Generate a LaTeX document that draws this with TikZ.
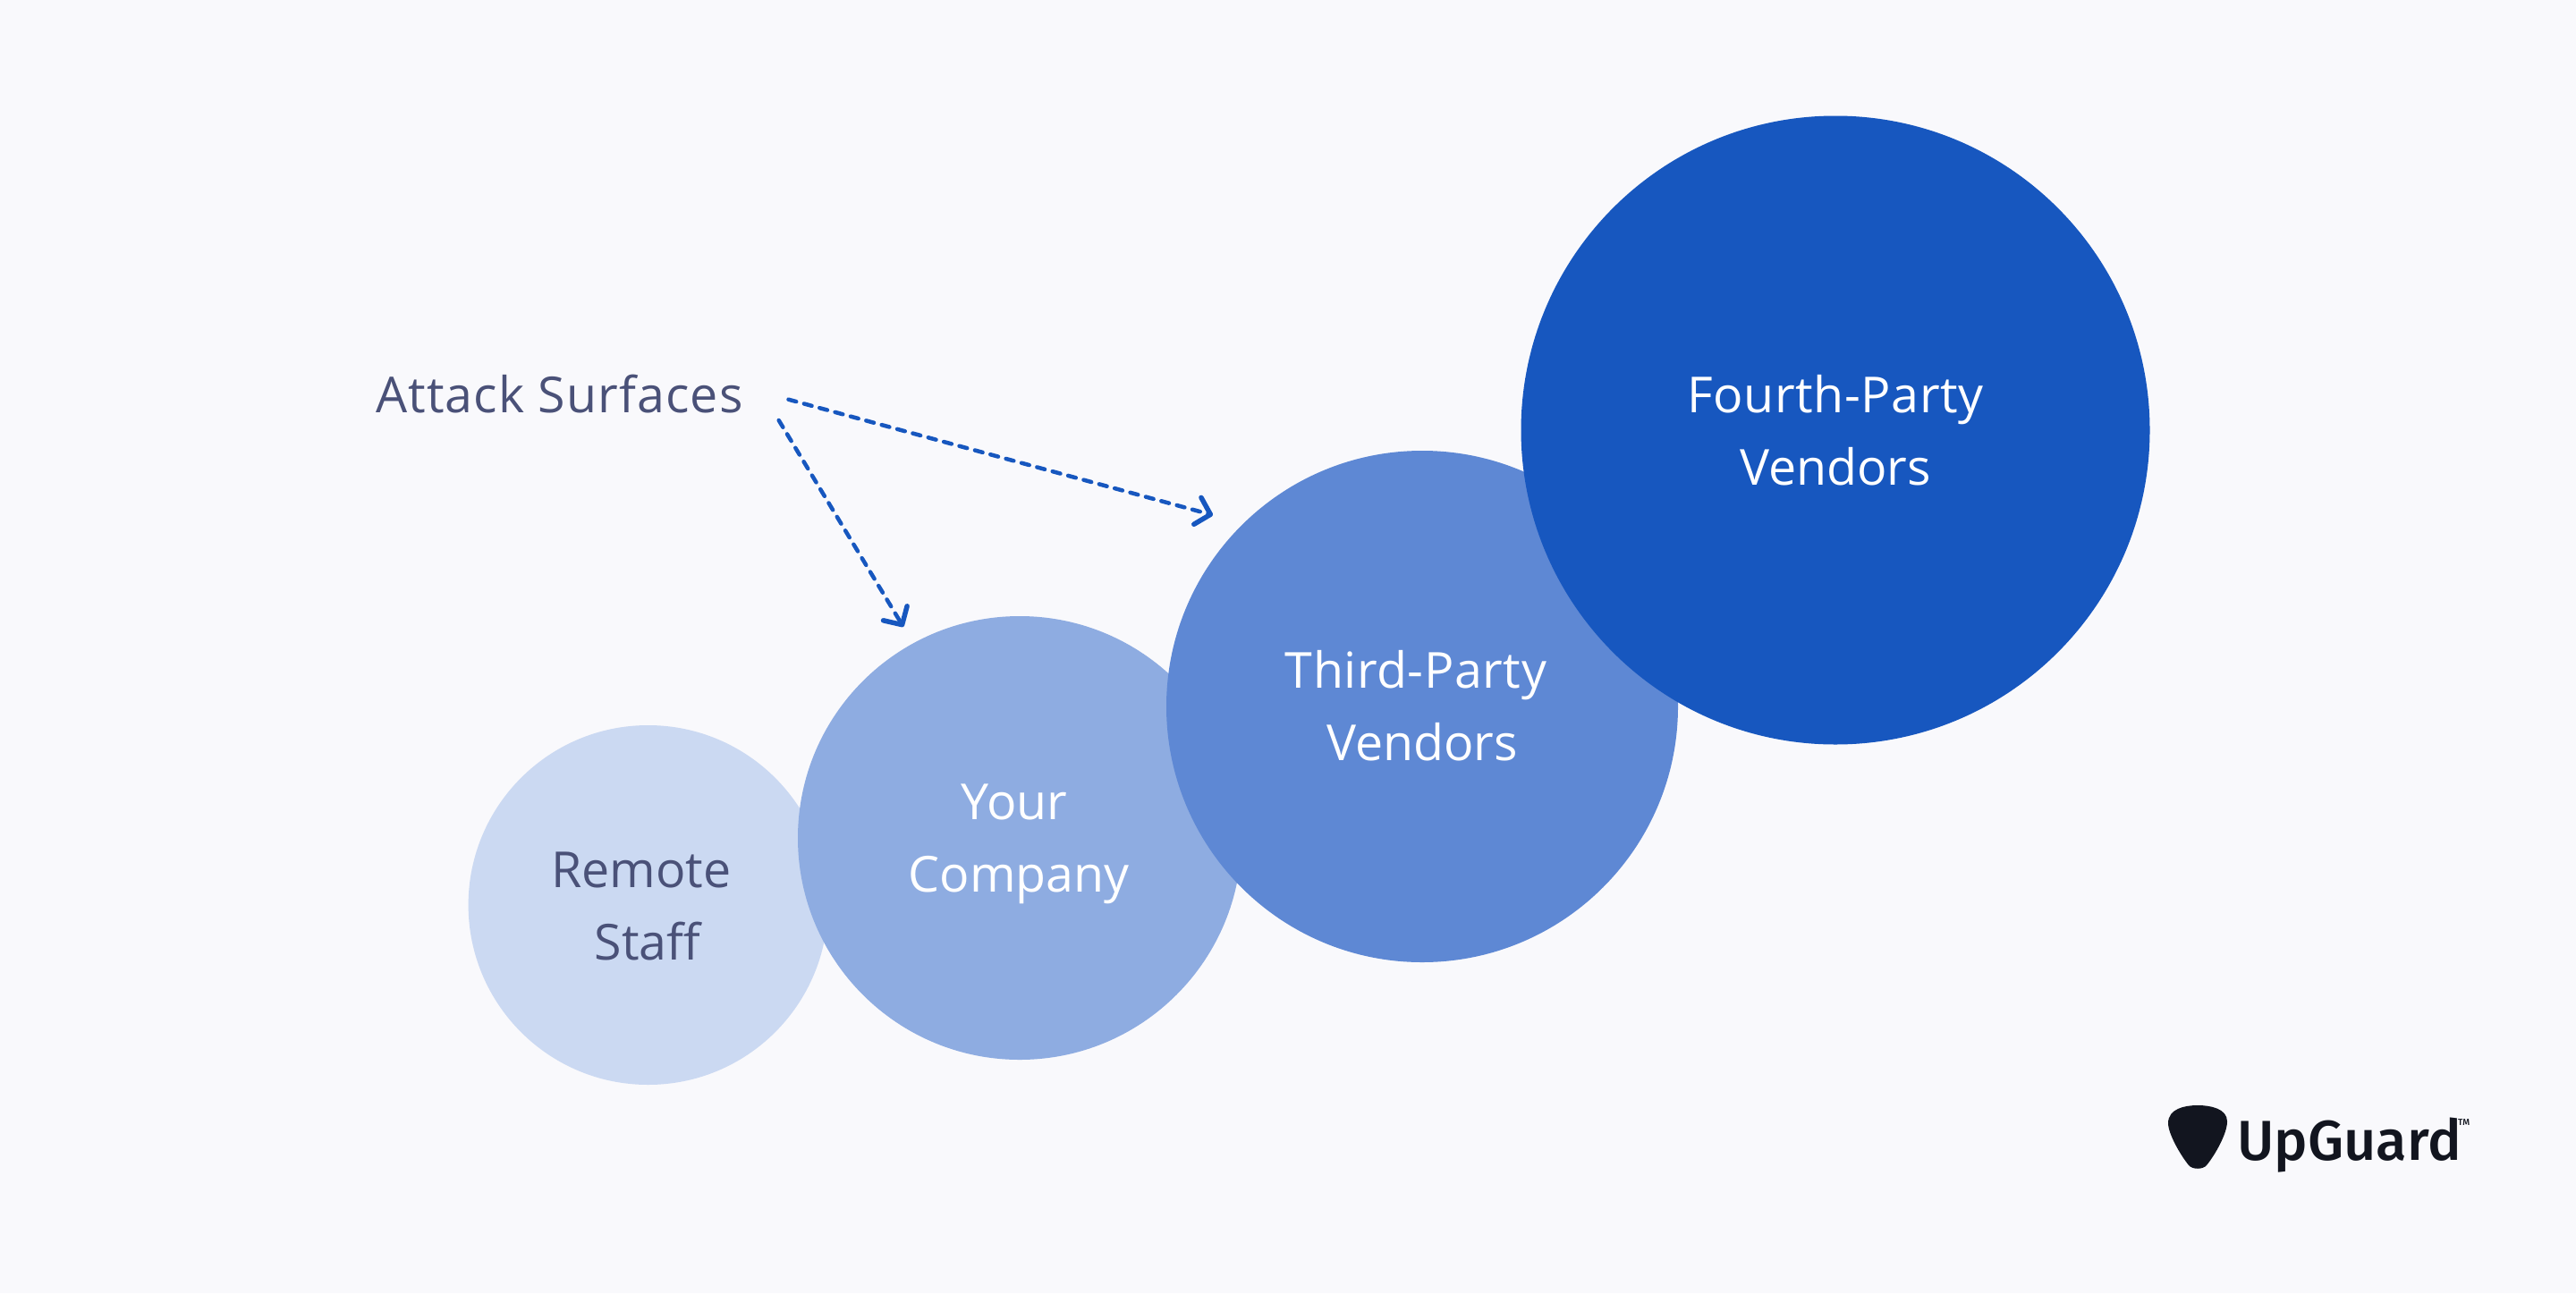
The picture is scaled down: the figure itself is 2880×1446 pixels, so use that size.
\documentclass[tikz,border=0pt]{standalone}
\usepackage{fontspec}
\setmainfont{Open Sans}
\newfontfamily\logofont{Fira Sans Medium}
\usetikzlibrary{arrows.meta}
\definecolor{bgc}{HTML}{F9F9FC}
\definecolor{cA}{HTML}{CBD9F2}
\definecolor{cB}{HTML}{8EACE1}
\definecolor{cC}{HTML}{5E88D4}
\definecolor{cD}{HTML}{1757BF}
\definecolor{ink}{HTML}{4A5178}
\definecolor{logoink}{HTML}{12151F}
\tikzset{
  x=1pt,y=-1pt,
  blob/.style={circle,inner sep=0pt,outer sep=0pt,draw=none},
  lab/.style={anchor=base,inner sep=0pt,font=\fontsize{55.5}{66}\selectfont},
  labw/.style={lab,text=white},
  labd/.style={lab,text=ink},
  spaced/.style={font=\fontsize{55.5}{66}\selectfont\addfontfeatures{LetterSpace=#1}},
  dashline/.style={draw=cD,line width=4.5pt,line cap=round,dash pattern=on 9pt off 9pt,
    -{Straight Barb[length=15pt,width=31pt,line width=5.5pt,round]}},
}
\begin{document}
\begin{tikzpicture}
\useasboundingbox (0,0) rectangle (2880,1446);
\fill[bgc] (0,0) rectangle (2880,1446);
\node[blob,fill=cA,minimum size=402pt] (remote) at (724.6,1012) {};
\node[blob,fill=cB,minimum size=496pt] (company) at (1140,937) {};
\node[blob,fill=cC,minimum size=572pt] (third) at (1590,790) {};
\node[blob,fill=cD,minimum size=703pt] (fourth) at (2052,481) {};
\node[labw,spaced=1] (f1) at (2052,461) {Fourth-Party};
\node[labw] (f2) at (2052,542) {Vendors};
\node[labw,spaced=1] (t1) at (1583,769) {Third-Party};
\node[labw] (t2) at (1590,850) {Vendors};
\node[labw] (y1) at (1134,916) {Your};
\node[labw] (y2) at (1139,997) {Company};
\node[labd] (r1) at (717,992) {Remote};
\node[labd] (r2) at (724,1073) {Staff};
\node[labd,spaced=2,anchor=base west] (attack) at (420,461) {Attack Surfaces};
\coordinate (s1) at (881.5,446.7);
\coordinate (e1) at (1356,576);
\coordinate (s2) at (870.7,470);
\coordinate (e2) at (1010,701);
\draw[dashline] (s1) -- (e1);
\draw[dashline] (s2) -- (e2);
% logo
\fill[logoink] (2457,1236) .. controls (2472,1236) and (2490,1240) .. (2490,1254)
  .. controls (2490,1268) and (2476,1292) .. (2467,1303)
  .. controls (2463,1308) and (2451,1308) .. (2447,1303)
  .. controls (2438,1292) and (2424,1268) .. (2424,1256)
  .. controls (2424,1240) and (2442,1236) .. (2457,1236) -- cycle;
\node[anchor=base west,inner sep=0pt,text=logoink,font=\logofont\fontsize{63}{70}\selectfont] (logo) at (2501,1297) {UpGuard};
\node[anchor=base west,inner sep=0pt,text=logoink,font=\logofont\fontsize{10}{10}\selectfont] (tm) at (2748,1258) {TM};
\end{tikzpicture}
\end{document}
